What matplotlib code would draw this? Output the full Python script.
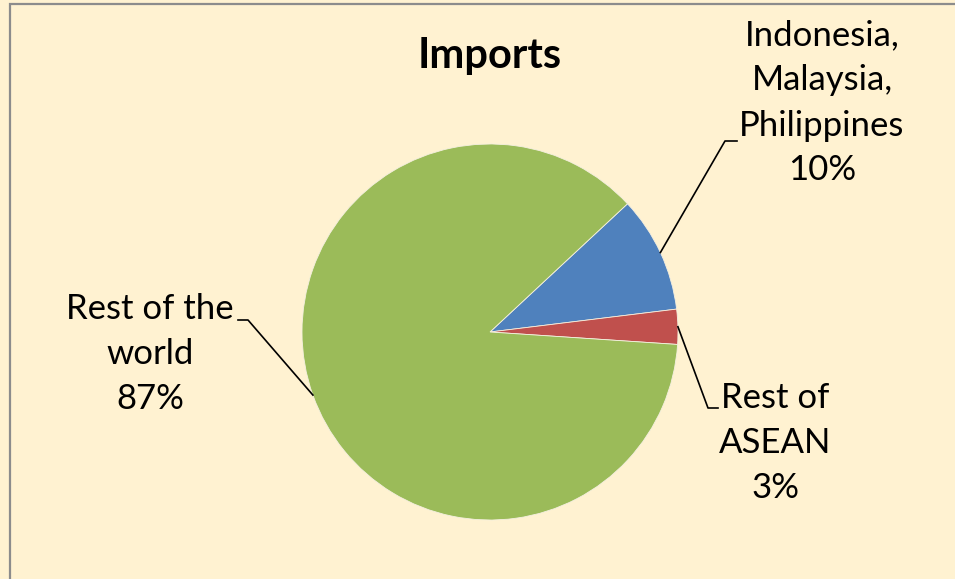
import numpy as np
import matplotlib.pyplot as plt
from matplotlib.patches import Rectangle

# data
labels = ['Indonesia,\nMalaysia,\nPhilippines', 'Rest of\nASEAN', 'Rest of the\nworld']
shares = [10, 3, 87]
colors = ['#4F81BD', '#C0504D', '#9BBB59']
title = 'Imports'

bg = '#FFF2D1'
W, H = 955, 579
fig = plt.figure(figsize=(W / 100, H / 100), dpi=100, facecolor=bg)
ax = fig.add_axes([0, 0, 1, 1])

cx, cy, r = 490, H - 332, 188
wedges, _ = ax.pie(shares, colors=colors, startangle=43, counterclock=False,
                   center=(cx, cy), radius=r, frame=True,
                   wedgeprops=dict(edgecolor='#F5F0E0', linewidth=0.6))
ax.set_xlim(0, W)
ax.set_ylim(0, H)
ax.axis('off')

# border
ax.add_patch(Rectangle((10, -20), W + 20, H - 4 + 20, fill=False,
                       edgecolor='#8C8C8C', linewidth=1.6, clip_on=False))

ax.text(cx, H - 56, title, ha='center', va='center', fontsize=30,
        fontweight='bold', family='Lato')

# label layout: elbow point, elbow end, text center
layout = [
    ((725, 141), (737, 141), (822, 103)),
    ((708, 408), (718, 408), (775, 443)),
    ((248, 320), (238, 320), (150, 354)),
]
for w, lab, pct, (elb, end, tc) in zip(wedges, labels, shares, layout):
    ang = np.deg2rad((w.theta1 + w.theta2) / 2)
    sx, sy = cx + r * np.cos(ang), cy + r * np.sin(ang)
    ax.plot([sx, elb[0], end[0]], [sy, H - elb[1], H - end[1]],
            color='black', linewidth=1.2)
    ax.text(tc[0], H - tc[1], f'{lab}\n{pct}%', ha='center', va='center',
            fontsize=25, family='Lato', linespacing=1.5)

fig.savefig('out.png', dpi=100, facecolor=bg)
